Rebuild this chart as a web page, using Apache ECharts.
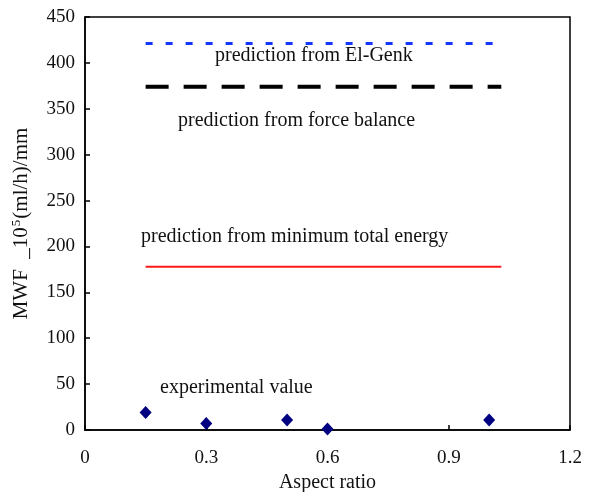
<!DOCTYPE html>
<html>
<head>
<meta charset="utf-8">
<script src="https://cdn.jsdelivr.net/npm/echarts@6/dist/echarts.min.js"></script>
<style>
  html, body { margin: 0; padding: 0; background: #fff; }
  #chart { width: 598px; height: 492px; }
</style>
</head>
<body>
<div id="chart"></div>
<script>
// aspect ratio / MWF data
var expX = [0.15, 0.3, 0.5, 0.6, 1.0];
var expY = [19, 7, 11, 1, 11];

var lineX = [0.15, 1.03];
var elGenk = 421;
var forceBalance = 374;
var minEnergy = 178;

var xTicks = [0, 0.3, 0.6, 0.9, 1.2];
var yTicks = [0, 50, 100, 150, 200, 250, 300, 350, 400, 450];

var chart = echarts.init(document.getElementById('chart'));
var serif = 'Liberation Serif';

function flat(v) {
    return [[lineX[0], v], [lineX[1], v]];
}

var option = {
    animation: false,
    backgroundColor: '#fff',
    textStyle: { fontFamily: serif },
    grid: {
        left: 85, right: 28, top: 17, bottom: 62,
        outerBoundsMode: 'none',
        containLabel: false,
        show: true, borderColor: '#000', borderWidth: 1.5
    },
    xAxis: {
        type: 'value',
        min: xTicks[0], max: xTicks[xTicks.length - 1], interval: 0.3,
        name: 'Aspect ratio',
        nameLocation: 'middle',
        nameGap: 41,
        nameTextStyle: { fontFamily: serif, fontSize: 20, color: '#111', verticalAlign: 'top' },
        axisLine: { lineStyle: { color: '#000', width: 1.5 } },
        axisTick: { inside: true, length: 5, lineStyle: { color: '#000', width: 1.5 } },
        axisLabel: { fontFamily: serif, fontSize: 19, color: '#111', margin: 19 },
        splitLine: { show: false }
    },
    yAxis: {
        type: 'value',
        min: yTicks[0], max: yTicks[yTicks.length - 1], interval: 50,
        name: '{a|MWF  _10}{s|5}{a|(ml/h)/mm}',
        nameLocation: 'middle',
        nameGap: 52,
        nameRotate: 90,
        nameTextStyle: {
            fontFamily: serif, fontSize: 21, color: '#111',
            rich: {
                a: { fontFamily: serif, fontSize: 21, color: '#111' },
                s: { fontFamily: serif, fontSize: 13, color: '#111', padding: [0, 1, 10, 1] }
            }
        },
        axisLine: { lineStyle: { color: '#000', width: 1.5 } },
        axisTick: { inside: true, length: 5, lineStyle: { color: '#000', width: 1.5 } },
        axisLabel: { fontFamily: serif, fontSize: 19, color: '#111', margin: 10 },
        splitLine: { show: false }
    },
    series: [
        {
            name: 'El-Genk', type: 'line', data: flat(elGenk), symbol: 'none',
            lineStyle: { color: '#1436ff', width: 3, type: [7, 13] }
        },
        {
            name: 'force balance', type: 'line', data: flat(forceBalance), symbol: 'none',
            lineStyle: { color: '#000', width: 4, type: [23, 15] }
        },
        {
            name: 'minimum total energy', type: 'line', data: flat(minEnergy), symbol: 'none',
            lineStyle: { color: '#ff1a1a', width: 2 }
        },
        {
            name: 'experimental value', type: 'scatter',
            data: expX.map(function (x, i) { return [x, expY[i]]; }),
            symbol: 'diamond', symbolSize: [12, 13],
            itemStyle: { color: '#000080', opacity: 1 }
        }
    ],
    graphic: [
        { type: 'text', left: 215, top: 46, style: { text: 'prediction from El-Genk', font: '20px "Liberation Serif"', fill: '#111' } },
        { type: 'text', left: 178, top: 111, style: { text: 'prediction from force balance', font: '20px "Liberation Serif"', fill: '#111' } },
        { type: 'text', left: 141, top: 227, style: { text: 'prediction from minimum total energy', font: '20px "Liberation Serif"', fill: '#111' } },
        { type: 'text', left: 160, top: 378, style: { text: 'experimental value', font: '20px "Liberation Serif"', fill: '#111' } }
    ]
};

chart.setOption(option);
</script>
</body>
</html>
